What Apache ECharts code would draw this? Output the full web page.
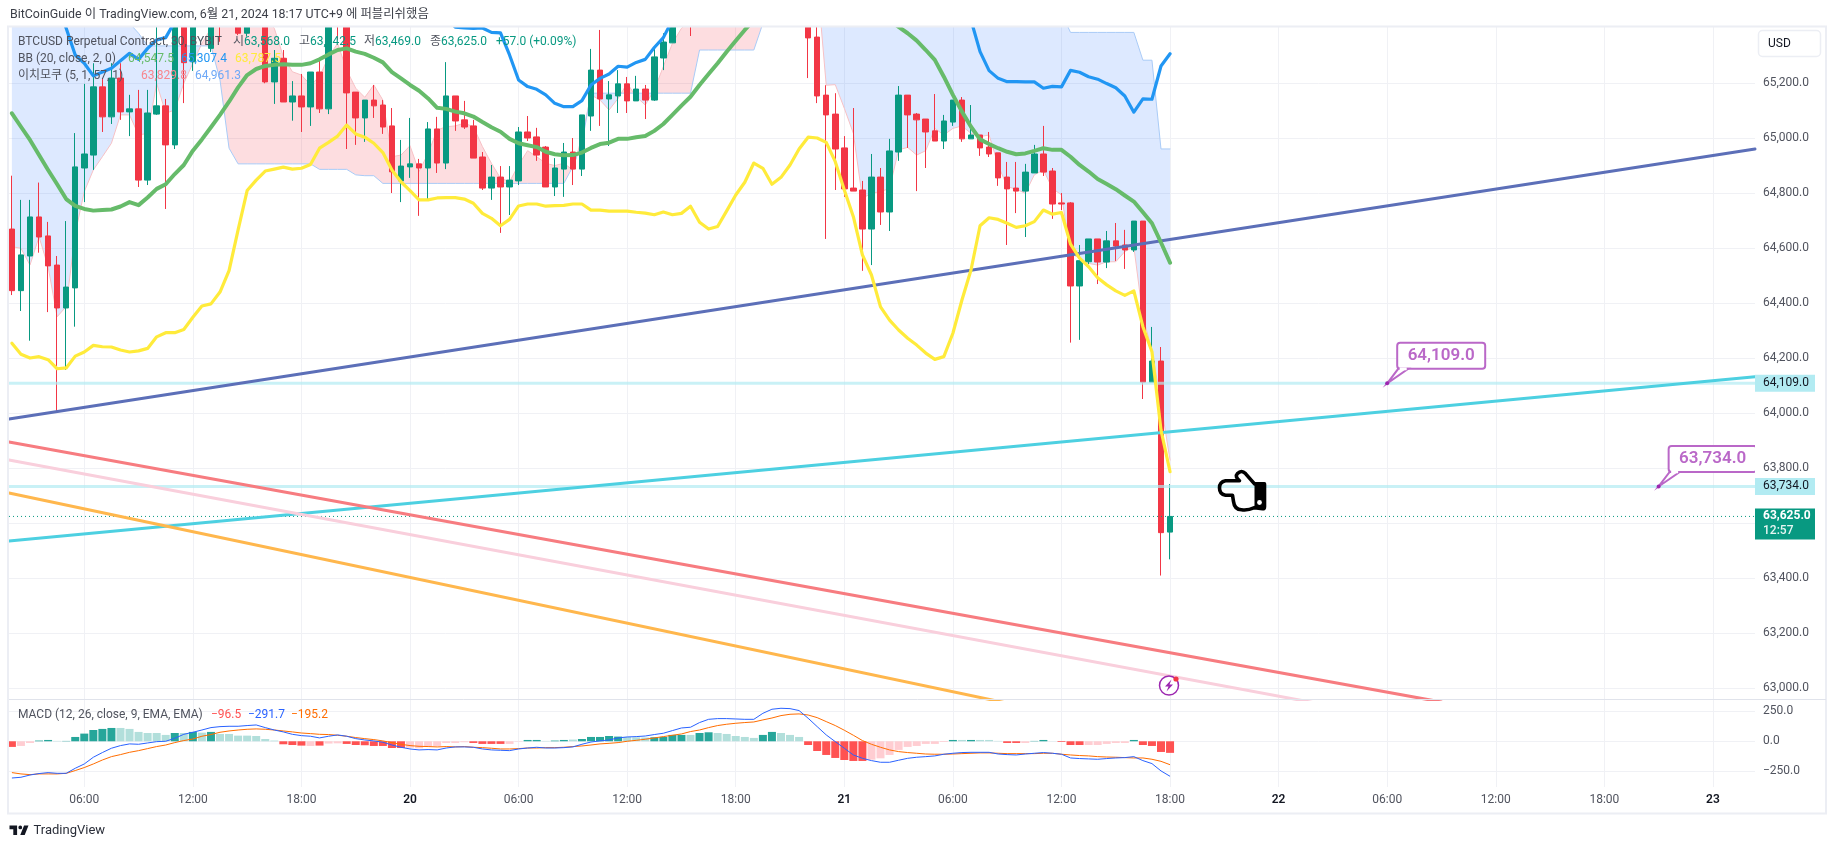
<!DOCTYPE html>
<html><head><meta charset="utf-8">
<style>html,body{margin:0;padding:0;background:#fff}#c{width:1835px;height:849px}</style>
<script src="https://cdn.jsdelivr.net/npm/echarts@6/dist/echarts.min.js"></script>
</head><body><div id="c"></div>
<script>
// candles: [open, close, low, high], one row per 30-minute bar, first bar = 19 Jun 02:00
const candles = [
[64670,64446,64430,64864],[64446,64576,64372,64776],[64572,64714,64264,64776],[64714,64641,64584,64839],[64645,64536,64368,64696],
[64539,64383,64005,64572],[64383,64459,64158,64699],[64456,64896,64315,65019],[64892,64943,64768,65198],[64939,65187,64885,65273],
[65187,65078,65023,65219],[65078,65219,65052,65273],[65219,65096,65067,65273],[65096,65107,65008,65158],[65107,64848,64823,65176],
[64848,65092,64830,65176],[65088,65118,65085,65420],[65118,64976,64743,65143],[64976,65480,64961,65540],[65480,65275,65128,65560],
[65278,65460,65245,65520],[65600,65450,65420,65650],[65327,65460,65314,65520],[65500,65430,65351,65560],[65450,65500,65420,65560],
[65480,65382,65375,65520],[65382,65470,65370,65510],[65500,65470,65420,65540],[65480,65205,65200,65560],[65205,65291,65125,65321],
[65291,65132,65132,65321],[65132,65154,65064,65208],[65154,65114,65023,65234],[65114,65241,65045,65241],[65241,65107,65092,65281],
[65107,65460,65088,65520],[65520,65440,65357,65560],[65440,65165,64961,65500],[65168,65074,64976,65168],[65074,65139,64987,65139],
[65139,65118,65074,65194],[65121,65041,65016,65139],[65045,64878,64801,65110],[64845,64899,64768,64994],[64896,64907,64856,65074],
[64907,64892,64718,64925],[64892,65034,64779,65059],[65034,64910,64874,65078],[64910,65154,64888,65277],[65154,65063,65027,65154],
[65067,65041,65034,65136],[65045,64928,64928,65067],[64932,64819,64812,64950],[64819,64859,64776,64903],[64859,64823,64656,64899],
[64823,64848,64721,64899],[64845,65023,64830,65041],[65023,65001,64990,65081],[65005,64939,64918,65038],[64968,64823,64823,64972],
[64823,64892,64790,64928],[64888,64950,64787,64983],[64950,64888,64830,65001],[64888,65085,64863,65085],[65081,65248,65027,65325],
[65248,65143,65045,65394],[65143,65158,64972,65208],[65154,65198,65092,65248],[65198,65136,65092,65223],[65136,65179,65136,65227],
[65179,65139,65070,65194],[65139,65296,65136,65325],[65292,65350,65248,65382],[65347,65470,65347,65540],[65470,65530,65440,65600],
[65560,65470,65372,65600],[65470,65580,65450,65640],[65580,65640,65540,65700],[65640,65600,65560,65720],[65600,65680,65570,65740],
[65680,65720,65640,65790],[65720,65660,65620,65760],[65660,65710,65620,65780],[65710,65640,65600,65750],[65640,65690,65600,65740],
[65690,65620,65580,65730],[65620,65560,65520,65660],[65560,65500,65460,65600],[65500,65365,65219,65560],[65368,65154,65128,65440],
[65157,65085,64634,65193],[65088,64961,64812,65164],[64965,64816,64787,65008],[64819,64808,64808,65110],[64812,64670,64518,64845],
[64670,64859,64539,64943],[64859,64732,64685,64892],[64732,64954,64663,64998],[64950,65157,64918,65190],[65157,65085,64965,65157],
[65088,65067,64808,65092],[65070,65023,64892,65070],[65027,64990,64990,65161],[64990,65063,64961,65085],[65059,65139,65045,65139],
[65139,64998,64987,65150],[64998,65012,64998,65121],[65012,64965,64936,65012],[64968,64943,64932,65023],[64947,64856,64827,64947],
[64859,64816,64612,64914],[64819,64808,64728,64914],[64808,64877,64641,64907],[64874,64943,64874,64976],[64943,64877,64863,65045],
[64881,64761,64707,64892],[64765,64761,64739,64801],[64765,64463,64257,64768],[64463,64555,64267,64612],[64551,64634,64542,64634],
[64634,64550,64470,64634],[64550,64627,64528,64663],[64627,64608,64554,64692],[64612,64594,64525,64667],[64594,64699,64587,64699],
[64699,64113,64052,64699],[64113,64190,64113,64314],[64190,63566,63410,64241],[63568,63625,63469,63742.5]];

// Bollinger bands, one value per bar
const bbBasis = [65091,65042,64994,64939,64885,64833,64779,64754,64743,64737,64739,64741,64752,64768,64757,64785,64816,64833,64870,64903,
64955,64996,65040,65085,65133,65185,65230,65252,65263,65267,65269,65267,65267,65273,65287,65305,65321,65327,65315,65307,65293,65276,65241,65218,
65194,65173,65145,65111,65107,65097,65091,65079,65059,65040,65024,64998,64982,64975,64968,64951,64942,64938,64939,64948,64965,64979,64984,64998,64998,65004,65008,65027,65052,65085,65119,65151,65194,65234,65273,65315,65355,65394,65430,
65460,65490,65515,65535,65550,65560,65565,65565,65560,65550,65535,65515,65490,65460,65430,
65405,65382,65355,65321,65285,65224,65158,65097,65042,64996,64979,64964,64951,64942,64945,64954,64964,64958,64958,64933,64903,64879,64852,64834,64815,64792,64770,64731,64691,64621,64547.5];
const bbUpper = [65750,65720,65680,65630,65560,65497,
65400,65303,65273,65227,65241,65255,65282,65309,65287,65327,65358,65366,65424,
65470,65510,65550,65580,65610,65640,65670,65690,65710,65730,65740,65750,65750,65750,65745,65740,65730,65720,65710,65695,65680,65660,65640,65620,65595,65570,65540,65510,65480,65440,
65404,65401,65400,65401,65385,65383,65303,65212,65188,65178,65158,65127,65115,65115,65137,65194,65218,65234,65262,65259,65276,65287,65330,65366,65430,
65520,65620,65730,65850,65970,66080,66180,66270,66340,66400,66440,66470,66490,66500,66500,66490,66470,66440,66400,66350,66300,66240,66180,66120,66050,65990,65920,65850,65780,65700,65620,65530,
65430,65315,65246,65218,65206,65206,65205,65205,65182,65189,65187,65247,65240,65224,65215,65199,65184,65154,65095,65143,65142,65263,65307.4];
const bbLower = [64255,64215,64201,64206,64195,64162,64165,64208,64223,64247,64242,64241,64230,64223,64227,64236,64278,64293,64293,64305,64349,64390,64398,64441,64519,64667,64810,64848,64881,64888,64895,64888,64891,64905,64964,64985,65008,65048,65016,65004,64982,64948,64885,64842,64810,64776,
64776,64783,64784,64784,64779,64764,64727,64709,64682,64705,64754,64761,64761,64753,64755,64756,64761,64761,64739,64739,64735,64735,64735,64731,64728,64722,64732,64722,64727,64753,64695,64670,64679,64736,64794,64840,64910,64891,64833,64858,64903,64961,
65004,65001,64985,64915,64812,64715,64576,64503,64387,64339,64303,64273,64248,64219,64196,64206,64291,64412,64521,64682,64711,64705,64691,64676,64682,64697,64739,64724,64730,64615,64564,64533,64493,64467,64445,64429,64445,64315,64224,63939,63787.5];

// Ichimoku cloud edges, one value per bar
const leadA = [64606,64600,64539,64642,64533,64351,64388,64655,64806,64885,64933,64982,65085,65085,65012,65018,65200,65091,65103,65200,65273,65345,65400,65455,
65500,65530,65520,65490,65440,
65400,65297,65242,65230,65194,65224,65297,65345,65248,65182,65149,65194,65139,64933,64939,64973,64879,64945,65030,65042,65045,65055,65042,64970,64909,64855,64842,64903,64955,64933,64909,64901,64909,64885,65006,65158,65139,65103,65145,65200,65151,65121,65176,65261,65345,65400,65430,65467,
65520,65560,65610,65650,65680,65700,65720,65740,65740,65720,65700,65660,65576,
65193,65195,65109,65018,64782,64800,64806,64818,64958,64967,64939,64955,65036,65012,65036,65045,65018,65006,65012,64903,64824,64815,64800,64867,64885,64818,64794,64582,64564,64545,64539,64551,64551,64588,64606,64351,64230,64036,63829.8];
const leadB = [65700,65700,65700,65700,65700,65700,65700,65700,65700,65700,65700,65600,65500,65418,65382,
65336,65336,65336,65336,65336,65336,65336,65336,65212,64964,
64907,64907,64907,64907,64907,64907,64907,64907,64907,64887,64887,64887,64887,64867,64864,64864,
64836,64836,64836,64836,64836,64836,64836,64836,64836,64836,64836,64836,64836,64836,64836,64836,64836,64836,64836,64836,64836,
64897,64982,65164,65164,65164,65164,65164,65164,65164,65164,65164,65164,65164,65164,
65321,65321,65321,65321,65321,65321,65321,65418,
65800,65800,65800,65800,65800,65800,65800,65800,65800,65800,65800,65800,65800,65800,65800,65800,65800,65800,65800,65800,65800,65800,65800,65800,65800,65800,65800,65800,65800,65800,65800,65800,
65455,65385,65385,65385,65385,65385,65385,65385,65385,65284,65284,64961.3,64961.3];

// MACD pane, one value per bar
const macdHist = [-47,-39,-14,6,11,3,3,36,64,94,103,111,111,103,78,69,69,53,69,69,78,72,78,61,61,47,47,44,19,6,
-25,-31,-36,-39,-36,-19,-17,-22,-31,-33,-39,-39,-56,-56,-53,-58,-42,-39,-14,-14,-8,-14,-22,-22,-22,-22,-3,11,11,3,
6,11,14,19,36,36,44,39,36,33,31,33,36,53,53,53,69,75,69,61,44,36,28,53,78,69,53,36,
-31,-81,-114,-139,-156,-164,-164,-153,-142,-114,-72,-47,-39,-22,-22,-6,11,11,11,11,11,3,-14,-14,-14,3,11,1,-6,-31,-31,-31,-31,-22,-14,-14,11,-31,-39,-89,-96.5];
const macdStrong = [1,0,0,1,1,0,1,1,1,1,1,1,0,0,0,0,0,0,1,0,1,0,1,0,0,0,0,0,0,0,
1,1,1,0,1,0,0,1,1,1,1,1,1,1,0,0,0,0,0,0,0,1,1,1,1,0,0,1,1,0,
1,1,0,1,1,1,1,1,0,0,0,1,1,1,1,0,1,1,0,0,0,0,0,1,1,0,0,0,
1,1,1,1,1,1,1,0,0,0,0,0,0,0,0,0,1,0,1,0,0,0,1,1,0,1,1,0,1,1,1,0,0,0,0,0,1,1,1,1,1];
const macdLine = [-306,-300,-281,-269,-261,-267,-267,-225,-189,-133,-94,-58,-36,-22,-25,-14,-3,0,25,58,75,94,114,122,125,125,131,136,114,94,78,58,47,42,28,42,53,42,22,11,3,-8,-31,-50,-64,-72,-69,-72,-56,-47,-47,-50,-64,-72,-75,-78,-64,-56,-50,-56,-56,-53,-47,-25,-6,3,11,28,
36,39,44,56,67,89,111,117,156,183,189,189,186,183,183,233,267,275,272,256,192,122,53,-3,-58,-114,-142,-161,-175,-175,-158,-142,-133,-128,-122,-108,-100,-94,-92,-92,-92,-106,-111,-114,-106,-100,-94,-100,-108,-139,-144,-147,-150,-144,-139,-136,-128,-161,-186,-247,-291.7];
const macdSignal = [-261,-272,-278,-272,-272,-272,-267,-244,-219,-189,-156,-128,-111,-92,-78,-61,-44,-31,-11,6,19,42,56,75,86,94,100,103,100,94,86,78,69,64,58,56,50,42,31,22,14,3,-11,-25,-36,-42,-44,-47,-44,-47,-44,-50,-53,-58,-64,-64,-61,-56,-56,-53,-53,-50,-44,-39,-31,-22,-17,-11,
0,8,17,28,39,50,61,81,94,114,131,142,150,156,161,178,194,214,225,228,219,197,164,131,92,50,6,-25,-50,-72,-86,-94,-100,-106,-108,-108,-106,-103,-100,-97,-97,-100,-103,-103,-103,-103,-100,-100,-108,-114,-119,-122,-128,-131,-133,-136,-139,-139,-150,-167,-195.2];

// Trend lines: [bar, price] end points
const trendBlue = [[-0.32,63979],[192.65,64961]];
const trendCyan = [[-0.32,63536],[192.65,64133]];
const trendRed = [[-0.32,63896],[158,62950]];
const trendPink = [[-0.32,63830],[144,62947]];
const trendOrange = [[-0.32,63710],[110,62946]];
const levelPrices = [64109, 63734];
const lastPrice = 63625;
// Callouts: [bar, price]
const callouts = [[152,64109],[182,63734]];

const priceTicks = [63000,63200,63400,63600,63800,64000,64200,64400,64600,64800,65000,65200];
const macdTicks = [-250,0,250];
const timeTickBars = [8,20,32,44,56,68,80,92,104,116,128,140,152,164,176,188];
const timeTickLabels = ['06:00','12:00','18:00','20','06:00','12:00','18:00','21','06:00','12:00','18:00','22','06:00','12:00','18:00','23'];

const FONT = 'Roboto, "Noto Sans CJK KR", sans-serif';
const UP = '#089981', DOWN = '#f23645';
const X_MIN = -0.3205, X_MAX = 192.65;
const GRIDC = '#f0f1f5';

const withX = a => a.map((v,i)=>[i,v]);

// Cloud runs: contiguous polygons of one sign, split where the edges cross
function buildCloudRuns(){
  const runs=[]; let cur=null;
  const n=Math.min(leadA.length,leadB.length);
  const start=(s,x,y)=>{cur={up:s>0,top:[[x,y]],bot:[[x,y]]};runs.push(cur);};
  for(let i=0;i<n;i++){
    const d=leadA[i]-leadB[i], s=d>=0?1:-1;
    if(i>0){
      const pd=leadA[i-1]-leadB[i-1], ps=pd>=0?1:-1;
      if(s!==ps){
        const t=pd/(pd-d), x=i-1+t, y=leadA[i-1]+(leadA[i]-leadA[i-1])*t;
        cur.top.push([x,y]);cur.bot.push([x,y]);
        start(s,x,y);
      }
    }
    if(!cur) cur={up:s>0,top:[],bot:[]},runs.push(cur);
    cur.top.push([i,leadA[i]]);cur.bot.push([i,leadB[i]]);
  }
  return runs.map(r=>({up:r.up,pts:r.top.concat(r.bot.slice().reverse())}));
}
const cloudRuns=buildCloudRuns();

const lineS=(name,data,color,width,z,extra)=>Object.assign({
  name,type:'line',data,xAxisIndex:0,yAxisIndex:0,symbol:'none',showSymbol:false,smooth:false,silent:true,animation:false,z,
  lineStyle:{color,width,cap:'round',join:'round'},emphasis:{disabled:true}
},extra||{});

const macdColor=(v,i)=>v>=0?(macdStrong[i]?'#26a69a':'#b2dfdb'):(macdStrong[i]?'#ff5252':'#ffcdd2');

const option={
  animation:false,backgroundColor:'#fff',
  textStyle:{fontFamily:FONT},
  grid:[
    {left:9,right:80,top:27,height:672.5,containLabel:false},
    {left:9,right:80,top:700,height:87,containLabel:false}
  ],
  xAxis:[
    {type:'value',gridIndex:0,min:X_MIN,max:X_MAX,axisLine:{show:false},
     axisTick:{show:false,customValues:timeTickBars},axisLabel:{show:false,customValues:timeTickBars},
     splitLine:{show:true,lineStyle:{color:GRIDC,width:1}}},
    {type:'value',gridIndex:1,min:X_MIN,max:X_MAX,axisLine:{show:false},
     axisTick:{show:false,customValues:timeTickBars},
     axisLabel:{show:true,customValues:timeTickBars,margin:7,fontSize:12,color:'#50535e',fontFamily:FONT,hideOverlap:false,
       formatter:v=>{const l=timeTickLabels[timeTickBars.indexOf(v)];return l.length===2?'{d|'+l+'}':l;},
       rich:{d:{fontSize:12,fontWeight:600,color:'#131722',fontFamily:FONT}}},
     splitLine:{show:true,lineStyle:{color:GRIDC,width:1}}}
  ],
  yAxis:[
    {type:'value',gridIndex:0,position:'right',min:62959.3,max:65404.7,axisLine:{show:false},
     axisTick:{show:false,customValues:priceTicks},
     axisLabel:{customValues:priceTicks,margin:8,fontSize:12,color:'#50535e',fontFamily:FONT,padding:[2,0,0,0],
       formatter:v=>v.toLocaleString('en-US',{minimumFractionDigits:1,maximumFractionDigits:1})},
     splitLine:{show:true,lineStyle:{color:GRIDC,width:1}}},
    {type:'value',gridIndex:1,position:'right',min:-381,max:344,axisLine:{show:false},
     axisTick:{show:false,customValues:macdTicks},
     axisLabel:{customValues:macdTicks,margin:8,fontSize:12,color:'#50535e',fontFamily:FONT,padding:[2,0,0,0],
       formatter:v=>(v<0?'\u2212':'')+Math.abs(v).toFixed(1)},
     splitLine:{show:true,lineStyle:{color:GRIDC,width:1}}}
  ],
  series:[
    {name:'cloud',type:'custom',xAxisIndex:0,yAxisIndex:0,clip:true,silent:true,z:1,animation:false,
     data:cloudRuns.map(r=>r.pts[0]),encode:{x:0,y:1},
     renderItem:(p,api)=>{const r=cloudRuns[p.dataIndex];
       return {type:'polygon',shape:{points:r.pts.map(q=>api.coord(q))},
         style:{fill:r.up?'rgba(242,54,69,0.17)':'rgba(41,121,255,0.16)',stroke:null}};}},
    lineS('leadA',withX(leadA),'#f7c1c5',1,2),
    lineS('leadB',withX(leadB),'#a9cbf7',1,2),
    {name:'candles',type:'candlestick',xAxisIndex:0,yAxisIndex:0,barWidth:6,z:3,silent:true,animation:false,
     data:candles.map((c,i)=>[i,c[0],c[1],c[2],c[3]]),encode:{x:0,y:[1,2,3,4]},
     itemStyle:{color:UP,color0:DOWN,borderColor:UP,borderColor0:DOWN,borderWidth:1}},
    lineS('level1',[[X_MIN,levelPrices[0]],[X_MAX,levelPrices[0]]],'rgba(178,235,242,0.7)',3,4,{}),
    lineS('level2',[[X_MIN,levelPrices[1]],[X_MAX,levelPrices[1]]],'rgba(178,235,242,0.7)',3,4,{}),
    lineS('last',[[X_MIN,lastPrice],[X_MAX,lastPrice]],UP,1,4,{lineStyle:{color:UP,width:1,type:[1,3]}}),
    lineS('trendBlue',trendBlue,'#5c6fb8',3,5),
    lineS('trendCyan',trendCyan,'#4dd0e1',3,5),
    lineS('trendPink',trendPink,'#f9cfdc',3,5),
    lineS('trendRed',trendRed,'#f77c80',3,5),
    lineS('trendOrange',trendOrange,'#ffb74d',3,5),
    lineS('bbUpper',withX(bbUpper),'#2196f3',3.2,6),
    lineS('bbLower',withX(bbLower),'#ffeb3b',3.2,6),
    lineS('bbBasis',withX(bbBasis),'#66bb6a',4,6),
    {name:'callouts',type:'custom',xAxisIndex:0,yAxisIndex:0,clip:true,silent:true,z:8,animation:false,
     data:callouts,encode:{x:0,y:1},
     renderItem:(p,api)=>{const c=api.coord([api.value(0),api.value(1)]);
       const col='#ba68c8';
       const label=api.value(1).toLocaleString('en-US',{minimumFractionDigits:1,maximumFractionDigits:1});
       return {type:'group',x:c[0],y:c[1],children:[
         {type:'rect',shape:{x:10,y:-40.5,width:88,height:26,r:3},style:{fill:'#fff',stroke:col,lineWidth:2}},
         {type:'polygon',shape:{points:[[0,0],[11,-14.5],[21,-14.5]]},style:{fill:'#fff',stroke:col,lineWidth:2}},
         {type:'line',shape:{x1:12.5,y1:-14.5,x2:19.5,y2:-14.5},style:{stroke:'#fff',lineWidth:2.6}},
         {type:'circle',shape:{cx:0,cy:0,r:2},style:{fill:'#9c27b0'}},
         {type:'text',x:54,y:-27.5,style:{text:label,fontSize:17,fontWeight:600,fontFamily:FONT,fill:col,align:'center',verticalAlign:'middle'}}
       ]};}},
    {name:'tags',type:'custom',xAxisIndex:0,yAxisIndex:0,clip:false,silent:true,z:9,animation:false,
     data:[[X_MAX,levelPrices[0]],[X_MAX,levelPrices[1]],[X_MAX,lastPrice]],encode:{x:0,y:1},
     renderItem:(p,api)=>{const c=api.coord([api.value(0),api.value(1)]);
       const label=api.value(1).toLocaleString('en-US',{minimumFractionDigits:1,maximumFractionDigits:1});
       if(p.dataIndex===2){return {type:'group',x:c[0],y:c[1],children:[
         {type:'rect',shape:{x:0,y:-8,width:60,height:31},style:{fill:UP}},
         {type:'text',x:8,y:0,style:{text:label,fontSize:12,fontWeight:700,fontFamily:FONT,fill:'#fff',verticalAlign:'middle'}},
         {type:'text',x:8,y:15,style:{text:'12:57',fontSize:12,fontWeight:500,fontFamily:FONT,fill:'#e6f5f2',verticalAlign:'middle'}}
       ]};}
       return {type:'group',x:c[0],y:c[1],children:[
         {type:'rect',shape:{x:0,y:-8.5,width:60,height:17},style:{fill:'#b2ebf2'}},
         {type:'text',x:8,y:0,style:{text:label,fontSize:12,fontFamily:FONT,fill:'#131722',verticalAlign:'middle'}}
       ]};}},
    // hand, flash icon and TradingView mark: fixed page decorations drawn through custom elements
    {name:'decor',type:'custom',xAxisIndex:0,yAxisIndex:0,clip:false,silent:true,z:28,animation:false,
     data:[[0,64000]],encode:{x:0,y:1},
     renderItem:()=>({type:'group',children:[
       {type:'group',x:1219.5,y:471.5,children:[
         {type:'path',shape:{pathData:'M6 10 L20 10 Q15 6 18 3 Q22 -1 26 3 L35 13 L45 13 L45 35 Q45 37 43 37 L35 36 Q28 39 22 38 Q15 38 14 30 L13 24 L6 24 Q0 23 0 17 Q0 11 6 10 Z',x:0,y:0,width:45,height:38.5,layout:'cover'},style:{fill:'none',stroke:'#000',lineWidth:3.6,lineJoin:'round'}},
         {type:'rect',shape:{x:35,y:12.5,width:10,height:24},style:{fill:'#000'}},
         {type:'circle',shape:{cx:40,cy:31,r:2.4},style:{fill:'#fff'}}
       ]},
       {type:'group',x:1169,y:685.5,children:[
         {type:'circle',shape:{cx:0,cy:0,r:9.5},style:{fill:'#fff',stroke:'#9c27b0',lineWidth:1.5}},
         {type:'polygon',shape:{points:[[2.5,-6],[-4,1],[-0.5,1],[-2.5,6],[4,-1],[0.5,-1]]},style:{fill:'#9c27b0'}},
         {type:'circle',shape:{cx:7,cy:-6.5,r:2.6},style:{fill:'#f23645'}}
       ]},
       {type:'path',shape:{pathData:'M14 6H2v6h6v9h6V6Zm12 15h-7l6-15h7l-6 15Zm-7-9a3 3 0 1 0 0-6 3 3 0 0 0 0 6Z',x:9.5,y:825.5,width:19,height:9.5,layout:'cover'},style:{fill:'#131722'}}
     ]})},
    {name:'macdHist',type:'bar',xAxisIndex:1,yAxisIndex:1,barWidth:8,silent:true,animation:false,z:2,
     data:macdHist.map((v,i)=>({value:[i,v],itemStyle:{color:macdColor(v,i)}}))},
    {name:'macdSignal',type:'line',xAxisIndex:1,yAxisIndex:1,data:withX(macdSignal),symbol:'none',silent:true,animation:false,z:3,lineStyle:{color:'#ff6d00',width:1}},
    {name:'macdLine',type:'line',xAxisIndex:1,yAxisIndex:1,data:withX(macdLine),symbol:'none',silent:true,animation:false,z:3,lineStyle:{color:'#2962ff',width:1}}
  ],
  graphic:[]
};

const txt=(text,x,y,fill,size,weight)=>({type:'text',x,y,z:30,silent:true,
  style:{text,fill,fontSize:size||12,fontWeight:weight||'normal',fontFamily:FONT,verticalAlign:'middle'}});
const G='#089981', L='#50535e';
option.graphic=[
  {type:'rect',z:19,silent:true,shape:{x:0,y:0,width:1835,height:26.5},style:{fill:'#fff'}},
  {type:'rect',z:20,silent:true,shape:{x:8,y:26.5,width:1818,height:787},style:{fill:'none',stroke:'#eceef4',lineWidth:2}},
  {type:'line',z:20,silent:true,shape:{x1:9,y1:699.5,x2:1826,y2:699.5},style:{stroke:'#e0e3eb',lineWidth:1}},
  txt('BitCoinGuide \uC774 TradingView.com, 6\uC6D4 21, 2024 18:17 UTC+9 \uC5D0 \uD37C\uBE14\uB9AC\uC26C\uD588\uC74C',10,14.5,'#3c3f48',12.4),
  txt('BTCUSD Perpetual Contract, 30, BYBIT',18,42,L),
  txt('\uC2DC',233,42,L),txt('63,568.0',244,42,G),
  txt('\uACE0',299,42,L),txt('63,742.5',310,42,G),
  txt('\uC800',364,42,L),txt('63,469.0',375,42,G),
  txt('\uC885',430,42,L),txt('63,625.0',441,42,G),
  txt('+57.0 (+0.09%)',496,42,G),
  txt('BB (20, close, 2, 0)',18,58.5,L),
  txt('64,547.5',128,58.5,'#66bb6a'),txt('65,307.4',181,58.5,'#2196f3'),txt('63,787.5',235,58.5,'#ffeb3b'),
  txt('\uC774\uCE58\uBAA8\uCFE0 (5, 1, 57, 1)',18,75.5,L),
  txt('63,829.8',141,75.5,'#f7868e'),txt('64,961.3',195,75.5,'#6ea8f7'),
  txt('MACD (12, 26, close, 9, EMA, EMA)',18,714.5,L),
  txt('\u221296.5',211,714.5,'#ff5252'),txt('\u2212291.7',248,714.5,'#2962ff'),txt('\u2212195.2',291,714.5,'#ff6d00'),
  {type:'rect',z:25,silent:true,shape:{x:1758.5,y:30.5,width:62,height:26,r:4},style:{fill:'#fff',stroke:'#eceef4',lineWidth:1.5}},
  txt('USD',1768,44,'#131722',12),
  txt('TradingView',33.5,831,'#2a2e39',13)
];

const chart=echarts.init(document.getElementById('c'),null,{renderer:'canvas'});
chart.setOption(option);
</script></body></html>
